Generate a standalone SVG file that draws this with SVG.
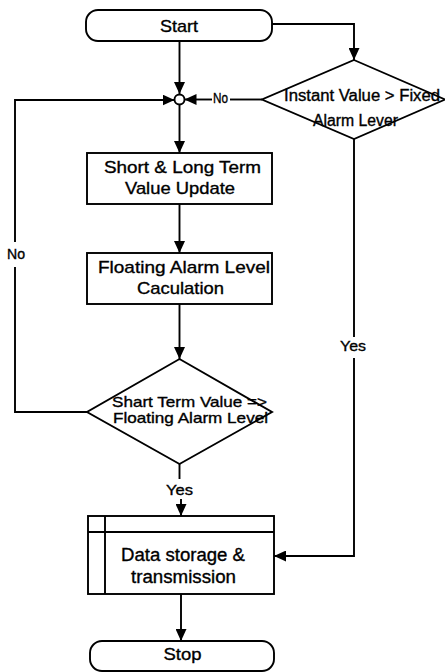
<svg xmlns="http://www.w3.org/2000/svg" width="445" height="672" viewBox="0 0 445 672">
  <style>
    .shape { fill: #fff; stroke: #000; stroke-width: 1.9; }
    .wire { fill: none; stroke: #000; stroke-width: 1.9; }
    .lbl { font-family: "Liberation Sans", Arial, sans-serif; fill: #000; stroke: #000; stroke-width: 0.35; text-anchor: middle; }
  </style>
  <defs>
    <marker id="arrow" markerUnits="userSpaceOnUse" markerWidth="12" markerHeight="11" refX="12" refY="5.5" orient="auto">
      <path d="M0,0 L12,5.5 L0,11 z" fill="#000"/>
    </marker>
  </defs>
  <rect width="445" height="672" fill="#fff"/>

  <!-- connectors -->
  <g id="connectors">
    <path class="wire" d="M179.5,41 V94" marker-end="url(#arrow)"/>
    <path class="wire" d="M272,24 H354 V60" marker-end="url(#arrow)"/>
    <path class="wire" d="M262,99.5 H230"/>
    <path class="wire" d="M212,99.5 H184.5" marker-end="url(#arrow)"/>
    <path class="wire" d="M87,412 H15 V267"/>
    <path class="wire" d="M15,242 V100 H174.5" marker-end="url(#arrow)"/>
    <path class="wire" d="M179.5,104.5 V153" marker-end="url(#arrow)"/>
    <path class="wire" d="M179.5,204 V253" marker-end="url(#arrow)"/>
    <path class="wire" d="M179.5,304 V359" marker-end="url(#arrow)"/>
    <path class="wire" d="M179.5,464 V479"/>
    <path class="wire" d="M181,499 V516" marker-end="url(#arrow)"/>
    <path class="wire" d="M354,139 V337"/>
    <path class="wire" d="M354,358 V556 H274" marker-end="url(#arrow)"/>
    <path class="wire" d="M181,594 V641" marker-end="url(#arrow)"/>
    <text class="lbl" x="220.5" y="103" font-size="14" textLength="15" lengthAdjust="spacingAndGlyphs">No</text>
    <text class="lbl" x="16" y="259" font-size="14" textLength="18" lengthAdjust="spacingAndGlyphs">No</text>
    <text class="lbl" x="353" y="351" font-size="15" textLength="26" lengthAdjust="spacingAndGlyphs">Yes</text>
    <text class="lbl" x="179.5" y="495" font-size="15" textLength="27" lengthAdjust="spacingAndGlyphs">Yes</text>
  </g>

  <!-- start terminal -->
  <g id="start">
    <rect class="shape" x="86" y="10" width="186" height="31" rx="12" ry="12"/>
    <text class="lbl" x="179" y="31.5" font-size="17" textLength="38" lengthAdjust="spacingAndGlyphs">Start</text>
  </g>

  <!-- merge junction -->
  <g id="junction">
    <circle class="shape" cx="179.5" cy="99.5" r="5"/>
  </g>

  <!-- fixed threshold check -->
  <g id="fixed-check">
    <polygon class="shape" points="354,60 445,99.5 354,139 262,99.5"/>
    <text class="lbl" x="362" y="100.5" font-size="16" textLength="156" lengthAdjust="spacingAndGlyphs">Instant Value &gt; Fixed</text>
    <text class="lbl" x="355.5" y="126" font-size="16" textLength="85" lengthAdjust="spacingAndGlyphs">Alarm Lever</text>
  </g>

  <!-- value update -->
  <g id="value-update">
    <rect class="shape" x="87" y="153" width="185" height="51"/>
    <text class="lbl" x="182.5" y="173" font-size="17" textLength="157" lengthAdjust="spacingAndGlyphs">Short &amp; Long Term</text>
    <text class="lbl" x="180" y="194" font-size="17" textLength="110" lengthAdjust="spacingAndGlyphs">Value Update</text>
  </g>

  <!-- floating level calculation -->
  <g id="floating-calc">
    <rect class="shape" x="87" y="253" width="185" height="51"/>
    <text class="lbl" x="184" y="273" font-size="17" textLength="172" lengthAdjust="spacingAndGlyphs">Floating Alarm Level</text>
    <text class="lbl" x="180.5" y="294" font-size="17" textLength="87" lengthAdjust="spacingAndGlyphs">Caculation</text>
  </g>

  <!-- floating threshold check -->
  <g id="floating-check">
    <polygon class="shape" points="179.5,359 272,412 179.5,464 87,412"/>
    <text class="lbl" x="189.5" y="407" font-size="15" textLength="155" lengthAdjust="spacingAndGlyphs">Shart Term Value =&gt;</text>
    <text class="lbl" x="190.5" y="423" font-size="15" textLength="155" lengthAdjust="spacingAndGlyphs">Floating Alarm Level</text>
  </g>

  <!-- storage and transmission -->
  <g id="storage">
    <rect class="shape" x="88" y="516" width="186" height="78"/>
    <path class="wire" d="M88,532 H274 M105,516 V594"/>
    <text class="lbl" x="183" y="561" font-size="18" textLength="124" lengthAdjust="spacingAndGlyphs">Data storage &amp;</text>
    <text class="lbl" x="183.5" y="583" font-size="18" textLength="105" lengthAdjust="spacingAndGlyphs">transmission</text>
  </g>

  <!-- stop terminal -->
  <g id="stop">
    <rect class="shape" x="90" y="641" width="184" height="30" rx="12" ry="12"/>
    <text class="lbl" x="182.5" y="660" font-size="17" textLength="38" lengthAdjust="spacingAndGlyphs">Stop</text>
  </g>
</svg>
